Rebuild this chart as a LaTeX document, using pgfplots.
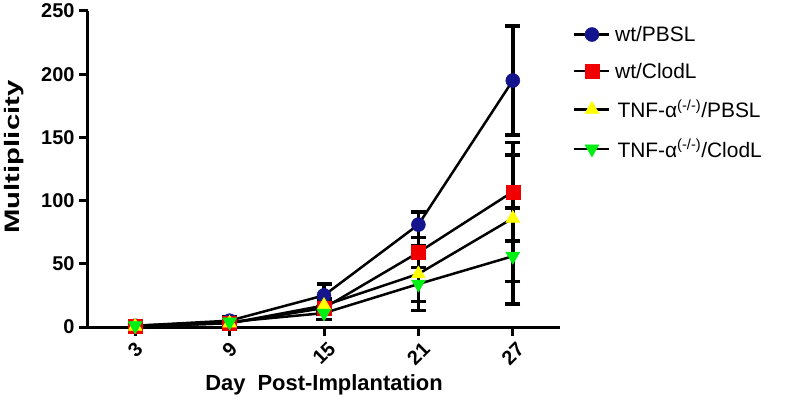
\documentclass[border=0pt]{standalone}
\usepackage{pgfplots}
\pgfplotsset{compat=1.18}
\usepackage{pgfplotstable}
\usepackage{graphicx}
\usepackage{fontspec}
\setmainfont{Liberation Sans}
\definecolor{navyb}{RGB}{20,20,140}
\definecolor{redb}{RGB}{240,0,0}
\definecolor{yelb}{RGB}{255,255,0}
\definecolor{greb}{RGB}{0,240,20}
\pgfplotstableread{
x y e
3 1 0.5
9 5 3
15 25 9
21 81 10
27 195 43
}\wtpbsl
\pgfplotstableread{
x y e
3 0.5 0.5
9 3 2
15 15 5
21 59 12
27 107 39
}\wtclod
\pgfplotstableread{
x y e
3 0.5 0.5
9 3 2
15 17 5
21 42 22
27 86 50
}\tnfpbsl
\pgfplotstableread{
x y e
3 1 0.5
9 4 2
15 11 5
21 34 21
27 56 38
}\tnfclod
\begin{document}
\begin{tikzpicture}
\useasboundingbox (-88bp,-82bp) rectangle (699bp,327bp);
\begin{axis}[
  at={(0,0)}, anchor=south west,
  scale only axis, width=472bp, height=316bp,
  xmin=0, xmax=30, ymin=0, ymax=250,
  axis x line=bottom, axis y line=left,
  axis line style={-, line width=3bp},
  xtick={3,9,15,21,27}, ytick={0,50,100,150,200,250},
  tick style={line width=3bp, black},
  tick align=outside, major tick length=9bp,
  /pgf/number format/assume math mode=true,
  ticklabel style={font=\bfseries\fontsize{20}{20}\selectfont},
  xticklabel={\rotatebox{45}{\pgfmathprintnumber{\tick}}},
  xticklabel style={anchor=north, yshift=-1bp},
  yticklabel style={xshift=-1bp},
  xlabel={Day\ \ Post-Implantation},
  ylabel={\scalebox{1.4}[1]{Multiplicity}},
  xlabel style={font=\bfseries\fontsize{22}{22}\selectfont,
    at={(axis description cs:0.5,-0.1835)}, anchor=center},
  ylabel style={font=\bfseries\fontsize{21}{21}\selectfont,
    at={(axis description cs:-0.157,0.538)}, anchor=center},
  legend style={at={(1,1)}, anchor=north west, xshift=10bp, yshift=-12bp, draw=none,
    font=\fontsize{21}{21}\selectfont, row sep=18bp, fill=none,
    nodes={inner sep=1bp}},
  legend cell align=left,
  legend image code/.code={
    \draw[black, line width=2.5bp] (0bp,0bp) -- (35bp,0bp);
    \draw plot coordinates {(17.5bp,0bp)};
  },
  clip=false,
]
\addplot[black, line width=2.5bp, mark=*, mark size=7bp,
  mark options={fill=navyb, draw=navyb, solid, line width=0.5bp},
  error bars/.cd, y dir=both, y explicit,
  error bar style={line width=3.5bp, black},
  error mark options={rotate=90, mark size=7.5bp, line width=3.5bp, black}]
  table[x=x, y=y, y error=e] {\wtpbsl};
\addlegendentry{\,wt/PBSL}
\addplot[black, line width=2.5bp, mark=square*, mark size=7bp,
  mark options={fill=redb, draw=redb, solid, line width=0.5bp},
  error bars/.cd, y dir=both, y explicit,
  error bar style={line width=3.5bp, black},
  error mark options={rotate=90, mark size=7.5bp, line width=3.5bp, black}]
  table[x=x, y=y, y error=e] {\wtclod};
\addlegendentry{\,wt/ClodL}
\addplot[black, line width=2.5bp, mark=triangle*, mark size=8bp,
  mark options={fill=yelb, draw=yelb, solid, line width=0.5bp},
  error bars/.cd, y dir=both, y explicit,
  error bar style={line width=3.5bp, black},
  error mark options={rotate=90, mark size=7.5bp, line width=3.5bp, black}]
  table[x=x, y=y, y error=e] {\tnfpbsl};
\addlegendentry{\ TNF-α\textsuperscript{(-/-)}/PBSL}
\addplot[black, line width=2.5bp, mark=triangle*, mark size=8bp,
  mark options={fill=greb, draw=greb, solid, rotate=180, line width=0.5bp},
  error bars/.cd, y dir=both, y explicit,
  error bar style={line width=3.5bp, black},
  error mark options={rotate=90, mark size=7.5bp, line width=3.5bp, black}]
  table[x=x, y=y, y error=e] {\tnfclod};
\addlegendentry{\ TNF-α\textsuperscript{(-/-)}/ClodL}
\end{axis}
\end{tikzpicture}
\end{document}
